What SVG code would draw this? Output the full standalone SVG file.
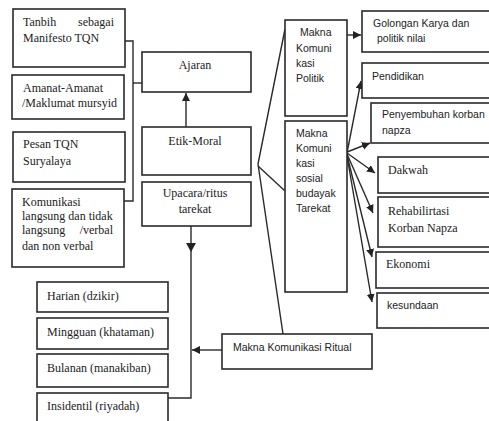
<svg xmlns="http://www.w3.org/2000/svg" width="489" height="421" viewBox="0 0 489 421">
<defs>
<marker id="ah" markerWidth="9" markerHeight="9" refX="8" refY="4" orient="auto" markerUnits="userSpaceOnUse">
<path d="M0,0 L8,4 L0,8 z" fill="#222"/>
</marker>
<style>
.box{fill:#fff;stroke:#2a2a2a;stroke-width:1.6}
.ln{fill:none;stroke:#2a2a2a;stroke-width:1.4}
.se{font-family:"Liberation Serif","Times New Roman",serif;font-size:12px;fill:#222}
.sa{font-family:"Liberation Sans",Arial,sans-serif;font-size:10.5px;fill:#222}
.c{text-anchor:middle}
</style>
</defs>
<rect width="489" height="421" fill="#fff"/>

<g id="connectors">
<polyline class="ln" points="125,41 133,41 133,201 124,201"/>
<line class="ln" x1="133" y1="83" x2="142" y2="83"/>
<line class="ln" x1="186" y1="127" x2="186" y2="93" marker-end="url(#ah)"/>
<polyline class="ln" points="191,226 191,398 168,398"/>
<polygon points="186,243 196,243 191,252" fill="#222"/>
<line class="ln" x1="222" y1="350" x2="192" y2="350" marker-end="url(#ah)"/>
<line class="ln" x1="258" y1="164" x2="285" y2="29"/>
<line class="ln" x1="258" y1="166" x2="285" y2="191"/>
<line class="ln" x1="258" y1="164" x2="283" y2="334"/>
<line class="ln" x1="347" y1="35" x2="361" y2="35" marker-end="url(#ah)"/>
<line class="ln" x1="347" y1="153" x2="361" y2="81" marker-end="url(#ah)"/>
<line class="ln" x1="347" y1="152" x2="370" y2="143" marker-end="url(#ah)"/>
<line class="ln" x1="347" y1="153" x2="375" y2="173" marker-end="url(#ah)"/>
<line class="ln" x1="347" y1="154" x2="373" y2="213" marker-end="url(#ah)"/>
<line class="ln" x1="347" y1="155" x2="372" y2="257" marker-end="url(#ah)"/>
<line class="ln" x1="347" y1="156" x2="372" y2="302" marker-end="url(#ah)"/>
</g>

<g id="tanbih">
<rect class="box" x="13" y="9" width="112" height="58"/>
<text class="se" x="23" y="26">Tanbih</text>
<text class="se" x="114" y="26" text-anchor="end">sebagai</text>
<text class="se" x="23" y="42">Manifesto TQN</text>
</g>
<g id="amanat">
<rect class="box" x="12" y="75" width="112" height="44"/>
<text class="se" x="23" y="92">Amanat-Amanat</text>
<text class="se" x="22" y="107">/Maklumat mursyid</text>
</g>
<g id="pesan">
<rect class="box" x="13" y="132" width="112" height="50"/>
<text class="se" x="23" y="148">Pesan TQN</text>
<text class="se" x="23" y="165">Suryalaya</text>
</g>
<g id="komunikasi">
<rect class="box" x="12" y="189" width="112" height="78"/>
<text class="se" x="22" y="206">Komunikasi</text>
<text class="se" x="22" y="220">langsung dan tidak</text>
<text class="se" x="22" y="234">langsung</text>
<text class="se" x="113" y="234" text-anchor="end">/verbal</text>
<text class="se" x="22" y="250">dan non verbal</text>
</g>
<g id="ajaran">
<rect class="box" x="142" y="52" width="109" height="40"/>
<text class="se c" x="195" y="69">Ajaran</text>
</g>
<g id="etik">
<rect class="box" x="142" y="127" width="109" height="48"/>
<text class="se c" x="195" y="145">Etik-Moral</text>
</g>
<g id="upacara">
<rect class="box" x="142" y="182" width="109" height="44"/>
<text class="se c" x="195" y="197">Upacara/ritus</text>
<text class="se c" x="195" y="213">tarekat</text>
</g>
<g id="harian">
<rect class="box" x="37" y="282" width="131" height="30"/>
<text class="se" x="47" y="300">Harian (dzikir)</text>
</g>
<g id="mingguan">
<rect class="box" x="37" y="318" width="131" height="31"/>
<text class="se" x="47" y="336">Mingguan (khataman)</text>
</g>
<g id="bulanan">
<rect class="box" x="37" y="354" width="131" height="33"/>
<text class="se" x="47" y="372">Bulanan (manakiban)</text>
</g>
<g id="insidentil">
<rect class="box" x="37" y="393" width="131" height="34"/>
<text class="se" x="47" y="410">Insidentil (riyadah)</text>
</g>
<g id="ritual">
<rect class="box" x="222" y="334" width="150" height="35"/>
<text class="sa" x="233" y="351">Makna Komunikasi Ritual</text>
</g>
<g id="politik">
<rect class="box" x="285" y="20" width="62" height="96"/>
<text class="sa" x="300" y="36">Makna</text>
<text class="sa" x="296" y="52">Komuni</text>
<text class="sa" x="296" y="67">kasi</text>
<text class="sa" x="296" y="82">Politik</text>
</g>
<g id="sosial">
<rect class="box" x="285" y="121" width="62" height="171"/>
<text class="sa" x="296" y="137">Makna</text>
<text class="sa" x="296" y="152">Komuni</text>
<text class="sa" x="296" y="167">kasi</text>
<text class="sa" x="296" y="182">sosial</text>
<text class="sa" x="296" y="197">budayak</text>
<text class="sa" x="296" y="212">Tarekat</text>
</g>
<g id="golongan">
<rect class="box" x="362" y="11" width="132" height="41"/>
<text class="sa" x="373" y="27">Golongan Karya dan</text>
<text class="sa" x="377" y="42">politik nilai</text>
</g>
<g id="pendidikan">
<rect class="box" x="362" y="63" width="132" height="35"/>
<text class="sa" x="372" y="80">Pendidikan</text>
</g>
<g id="penyembuhan">
<rect class="box" x="371" y="103" width="123" height="40"/>
<text class="sa" x="382" y="118">Penyembuhan korban</text>
<text class="sa" x="382" y="134">napza</text>
</g>
<g id="dakwah">
<rect class="box" x="378" y="157" width="116" height="36"/>
<text class="se" x="388" y="174">Dakwah</text>
</g>
<g id="rehabilitasi">
<rect class="box" x="378" y="197" width="116" height="50"/>
<text class="se" x="388" y="215" font-size="13">Rehabilirtasi</text>
<text class="se" x="388" y="232" font-size="13">Korban Napza</text>
</g>
<g id="ekonomi">
<rect class="box" x="376" y="252" width="118" height="36"/>
<text class="se" x="386" y="268">Ekonomi</text>
</g>
<g id="kesundaan">
<rect class="box" x="377" y="293" width="117" height="35"/>
<text class="sa" x="387" y="309">kesundaan</text>
</g>
</svg>
